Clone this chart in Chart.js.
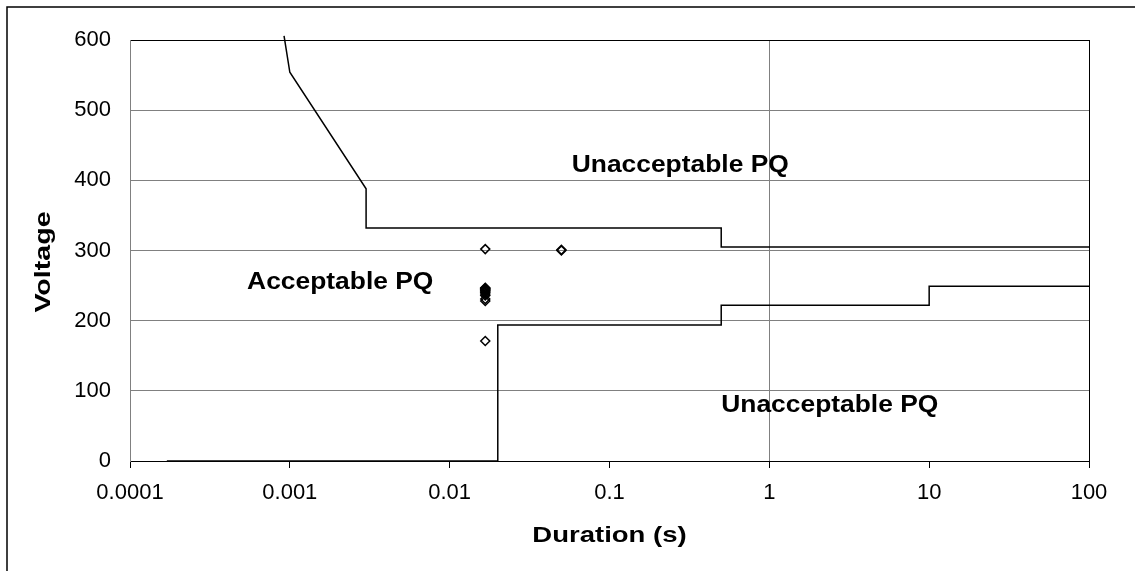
<!DOCTYPE html>
<html>
<head>
<meta charset="utf-8">
<script src="https://cdn.jsdelivr.net/npm/chart.js@4.4.1/dist/chart.umd.min.js"></script>
<style>
  html, body { margin: 0; padding: 0; background: #fff; }
  #wrap { position: relative; width: 1135px; height: 571px; }
</style>
</head>
<body>
<div id="wrap"><canvas id="pqChart" width="1135" height="571"></canvas></div>
<script>
// upper tolerance limit (duration in s, voltage)
const upperDur  = [0.00092, 0.001, 0.003, 0.003, 0.5, 0.5, 100];
const upperVolt = [606, 554, 388, 332, 332, 305, 305];

// lower tolerance limit
const lowerDur  = [0.00017, 0.02, 0.02, 0.5, 0.5, 10, 10, 100];
const lowerVolt = [0, 0, 194, 194, 222, 222, 249, 249];

// recorded events
const eventDur  = [0.0167, 0.0167, 0.0167, 0.0167, 0.0167, 0.0167, 0.0167, 0.0167, 0.0167, 0.0167, 0.0167, 0.0167, 0.05, 0.05];
const eventVolt = [302, 247, 246, 245, 244, 243, 242, 240, 238, 236, 231, 228, 300, 301];
const eventVoltLow = [171];
const eventDurLow  = [0.0167];

// axis ticks
const durTicks  = [0.0001, 0.001, 0.01, 0.1, 1, 10, 100];
const voltTicks = [0, 100, 200, 300, 400, 500, 600];

// region captions, anchored at (duration, voltage) of their baseline start
const noteText = ['Unacceptable PQ', 'Acceptable PQ', 'Unacceptable PQ'];
const noteDur  = [0.058, 0.00054, 0.5];
const noteVolt = [412, 245, 70];

const FONT = '"Liberation Sans", Arial, sans-serif';
Chart.defaults.font.family = FONT;
Chart.defaults.color = '#000';

const toXY = (xs, ys) => xs.map((v, i) => ({ x: v, y: ys[i] }));

// white page with the frame line on the top and left edges
const frame = {
  id: 'frame',
  beforeDraw(chart) {
    const ctx = chart.ctx;
    ctx.save();
    ctx.fillStyle = '#fff';
    ctx.fillRect(0, 0, chart.width, chart.height);
    ctx.strokeStyle = '#000';
    ctx.lineWidth = 1.5;
    ctx.beginPath();
    ctx.moveTo(7, chart.height + 2);
    ctx.lineTo(7, 7);
    ctx.lineTo(chart.width + 2, 7);
    ctx.stroke();
    ctx.restore();
  }
};

// region captions and axis titles
const captions = {
  id: 'captions',
  afterDatasetsDraw(chart) {
    const { ctx, chartArea, scales: { x, y } } = chart;
    ctx.save();
    ctx.fillStyle = '#000';
    ctx.textBaseline = 'alphabetic';
    ctx.font = 'bold 24px ' + FONT;
    ctx.textAlign = 'left';
    noteText.forEach((t, i) => {
      ctx.save();
      ctx.translate(x.getPixelForValue(noteDur[i]), y.getPixelForValue(noteVolt[i]));
      ctx.scale(1.1, 1);
      ctx.fillText(t, 0, 0);
      ctx.restore();
    });

    ctx.font = 'bold 22px ' + FONT;
    ctx.textAlign = 'center';
    ctx.save();
    ctx.translate((chartArea.left + chartArea.right) / 2, chartArea.bottom + 81);
    ctx.scale(1.25, 1);
    ctx.fillText('Duration (s)', 0, 0);
    ctx.restore();

    ctx.save();
    ctx.translate(50, 262);
    ctx.rotate(-Math.PI / 2);
    ctx.scale(1.3, 1);
    ctx.fillText('Voltage', 0, 0);
    ctx.restore();
    ctx.restore();
  }
};

new Chart(document.getElementById('pqChart'), {
  type: 'scatter',
  data: {
    datasets: [
      {
        label: 'Upper limit',
        data: toXY(upperDur, upperVolt),
        showLine: true,
        borderColor: '#000',
        borderWidth: 1.5,
        pointRadius: 0,
        fill: false,
        clip: false
      },
      {
        label: 'Lower limit',
        data: toXY(lowerDur, lowerVolt),
        showLine: true,
        borderColor: '#000',
        borderWidth: 1.5,
        pointRadius: 0,
        fill: false
      },
      {
        label: 'Events',
        data: toXY(eventDur, eventVolt).concat(toXY(eventDurLow, eventVoltLow)),
        showLine: false,
        pointStyle: 'rectRot',
        pointRadius: 4.5,
        pointBorderWidth: 1.5,
        pointBorderColor: '#000',
        pointBackgroundColor: 'rgba(255,255,255,0)'
      }
    ]
  },
  options: {
    responsive: false,
    animation: false,
    devicePixelRatio: 1,
    layout: { padding: { left: 0, top: 40, right: 46, bottom: 0 } },
    plugins: {
      legend: { display: false },
      tooltip: { enabled: false },
      title: { display: false }
    },
    scales: {
      x: {
        type: 'logarithmic',
        min: 0.0001,
        max: 100,
        afterBuildTicks: (s) => { s.ticks = durTicks.map(v => ({ value: v })); },
        afterFit: (s) => { s.height = 110; },
        ticks: {
          autoSkip: false,
          maxRotation: 0,
          padding: 12,
          font: { size: 22 },
          callback: (v) => String(v)
        },
        grid: {
          drawTicks: true,
          tickLength: 7,
          tickColor: '#000',
          lineWidth: 1,
          color: (c) => {
            const v = c.tick && c.tick.value;
            if (v === 1) return '#808080';
            if (v === 100) return '#000';
            return 'rgba(0,0,0,0)';
          }
        },
        border: { display: true, color: '#000', width: 1 }
      },
      y: {
        min: 0,
        max: 600,
        afterBuildTicks: (s) => { s.ticks = voltTicks.map(v => ({ value: v })); },
        afterFit: (s) => { s.width = 130; },
        ticks: {
          padding: 19,
          font: { size: 22 }
        },
        grid: {
          drawTicks: false,
          lineWidth: 1,
          color: (c) => (c.tick && c.tick.value === 600) ? '#000' : '#808080'
        },
        border: { display: true, color: '#808080', width: 1 }
      }
    }
  },
  plugins: [frame, captions]
});
</script>
</body>
</html>
